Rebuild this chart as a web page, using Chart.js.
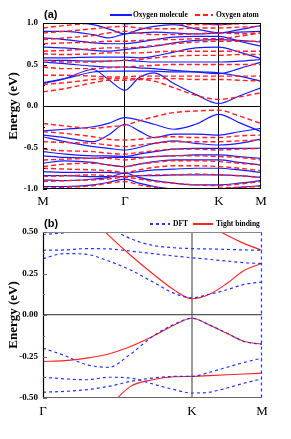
<!DOCTYPE html>
<html><head><meta charset="utf-8">
<script src="https://cdn.jsdelivr.net/npm/chart.js@4.4.1/dist/chart.umd.min.js"></script>
<style>
html,body{margin:0;padding:0;background:#fff;width:291px;height:439px;overflow:hidden;position:relative;}
canvas{position:absolute;left:0;}
#ca{top:0;}
#cb{top:215px;}
.pl{position:absolute;font-family:"Liberation Sans",Arial,sans-serif;font-weight:bold;font-size:11px;line-height:1;color:#000;}
.lt{position:absolute;font-family:"Liberation Serif","Times New Roman",serif;font-weight:bold;font-size:7.5px;line-height:1;white-space:nowrap;color:#000;}
.ls{position:absolute;height:1.5px;}
</style></head>
<body>
<canvas id="ca" width="291" height="215"></canvas>
<canvas id="cb" width="291" height="224"></canvas>
<div class="pl" style="left:44px;top:9px;">(a)</div>
<div class="ls" style="left:110px;top:14px;width:22px;background:#1a1aff;"></div>
<div class="lt" style="left:133px;top:11px;">Oxygen molecule</div>
<div class="ls" style="left:195px;top:14px;width:18px;background:repeating-linear-gradient(90deg,#ff2020 0 5px,transparent 5px 8px);"></div>
<div class="lt" style="left:216px;top:11px;">Oxygen atom</div>
<div class="pl" style="left:44px;top:218px;">(b)</div>
<div class="ls" style="left:150px;top:223px;width:20px;background:repeating-linear-gradient(90deg,#2233ff 0 3px,transparent 3px 6px);"></div>
<div class="lt" style="left:173px;top:220px;">DFT</div>
<div class="ls" style="left:193px;top:223px;width:20px;background:#ff2020;"></div>
<div class="lt" style="left:216px;top:220px;">Tight binding</div>
<script>
// ---------- Panel (a): path M - Γ - K - M ----------
const G_A = 0.376, K_A = 0.807;
const xTicksA = [0, G_A, K_A, 1];
const xLabelsA = ['M', 'Γ', 'K', 'M'];
const yTicksA = [-1, -0.5, 0, 0.5, 1];
const xA = [0, 0.1, 0.23, 0.3, 0.376, 0.44, 0.51, 0.6, 0.7, 0.807, 0.9, 1.0];

// Oxygen molecule (blue solid)
const mol1 = [0.27, 0.33, 0.44, 0.32, 0.19, 0.34, 0.40, 0.27, 0.14, 0.03, 0.12, 0.22];
const mol2 = [0.28, 0.33, 0.41, 0.42, 0.42, 0.42, 0.42, 0.41, 0.41, 0.40, 0.36, 0.30];
const mol3 = [0.53, 0.51, 0.48, 0.47, 0.47, 0.46, 0.45, 0.43, 0.41, 0.39, 0.45, 0.53];
const mol4 = [0.55, 0.55, 0.54, 0.54, 0.55, 0.54, 0.53, 0.53, 0.53, 0.53, 0.54, 0.56];
const mol5 = [0.58, 0.58, 0.59, 0.59, 0.59, 0.58, 0.60, 0.65, 0.70, 0.71, 0.65, 0.57];
const mol6 = [0.71, 0.70, 0.67, 0.66, 0.68, 0.70, 0.72, 0.76, 0.79, 0.80, 0.79, 0.77];
const mol7 = [0.82, 0.80, 0.76, 0.75, 0.75, 0.77, 0.80, 0.83, 0.84, 0.84, 0.78, 0.72];
const mol8 = [0.90, 0.90, 0.86, 0.82, 0.87, 0.88, 0.89, 0.88, 0.87, 0.88, 0.89, 0.90];
const mol9 = [1.05, 1.02, 0.98, 0.93, 0.87, 0.92, 0.96, 0.98, 0.93, 0.88, 0.92, 0.97];
const mol10 = [1.12, 1.10, 1.06, 1.02, 0.99, 1.00, 1.02, 1.03, 1.00, 0.98, 1.00, 1.03];
const molV1 = [-0.30, -0.28, -0.25, -0.21, -0.14, -0.17, -0.22, -0.28, -0.22, -0.10, -0.20, -0.31];
const molV2 = [-0.35, -0.38, -0.43, -0.35, -0.22, -0.30, -0.38, -0.34, -0.34, -0.35, -0.31, -0.27];
const molV3 = [-0.37, -0.43, -0.49, -0.51, -0.53, -0.50, -0.45, -0.42, -0.45, -0.47, -0.45, -0.40];
const molV4 = [-0.55, -0.58, -0.60, -0.60, -0.61, -0.58, -0.55, -0.52, -0.51, -0.51, -0.51, -0.51];
const molV5 = [-0.60, -0.62, -0.63, -0.62, -0.62, -0.62, -0.61, -0.60, -0.59, -0.59, -0.61, -0.63];
const molV6 = [-0.69, -0.66, -0.68, -0.71, -0.73, -0.70, -0.67, -0.65, -0.65, -0.65, -0.68, -0.71];
const molV7 = [-0.79, -0.80, -0.80, -0.80, -0.81, -0.79, -0.77, -0.76, -0.75, -0.75, -0.77, -0.80];
const molV8 = [-0.84, -0.84, -0.85, -0.85, -0.85, -0.84, -0.84, -0.83, -0.83, -0.83, -0.84, -0.86];
const molV9 = [-0.89, -0.90, -0.88, -0.86, -0.81, -0.86, -0.90, -0.93, -0.95, -0.95, -0.93, -0.90];
const molV10 = [-0.97, -0.97, -0.95, -0.92, -0.88, -0.93, -0.97, -1.00, -1.00, -1.00, -0.98, -0.96];

// Oxygen atom (red dashed)
const atm1 = [0.17, 0.21, 0.28, 0.31, 0.31, 0.32, 0.30, 0.22, 0.13, 0.08, 0.11, 0.16];
const atm2 = [0.26, 0.28, 0.32, 0.33, 0.33, 0.33, 0.33, 0.33, 0.32, 0.32, 0.31, 0.30];
const atm3 = [0.37, 0.37, 0.36, 0.35, 0.35, 0.36, 0.36, 0.36, 0.36, 0.36, 0.36, 0.36];
const atm4 = [0.47, 0.45, 0.45, 0.46, 0.47, 0.48, 0.49, 0.50, 0.50, 0.50, 0.50, 0.50];
const atm5 = [0.55, 0.53, 0.53, 0.54, 0.55, 0.56, 0.58, 0.60, 0.61, 0.61, 0.62, 0.62];
const atm6 = [0.63, 0.62, 0.63, 0.64, 0.64, 0.64, 0.65, 0.66, 0.66, 0.66, 0.66, 0.66];
const atm7 = [0.66, 0.67, 0.69, 0.70, 0.70, 0.71, 0.73, 0.75, 0.77, 0.78, 0.78, 0.78];
const atm8 = [0.75, 0.76, 0.77, 0.78, 0.78, 0.79, 0.80, 0.80, 0.81, 0.81, 0.84, 0.88];
const atm9 = [0.80, 0.82, 0.85, 0.88, 0.90, 0.88, 0.86, 0.86, 0.87, 0.88, 0.87, 0.88];
const atm10 = [0.88, 0.90, 0.93, 0.95, 0.96, 0.94, 0.93, 0.93, 0.94, 0.94, 0.95, 0.96];
const atm11 = [0.94, 0.97, 1.00, 1.02, 1.03, 1.01, 1.00, 0.99, 0.98, 0.98, 0.99, 1.00];
const atmV1 = [-0.21, -0.24, -0.27, -0.25, -0.23, -0.18, -0.13, -0.08, -0.06, -0.05, -0.12, -0.21];
const atmV2 = [-0.31, -0.33, -0.37, -0.40, -0.41, -0.40, -0.38, -0.37, -0.38, -0.38, -0.36, -0.35];
const atmV3 = [-0.43, -0.44, -0.45, -0.47, -0.49, -0.47, -0.45, -0.43, -0.43, -0.43, -0.42, -0.41];
const atmV4 = [-0.52, -0.54, -0.55, -0.57, -0.58, -0.56, -0.54, -0.52, -0.52, -0.53, -0.52, -0.51];
const atmV5 = [-0.65, -0.64, -0.63, -0.63, -0.65, -0.63, -0.61, -0.60, -0.60, -0.61, -0.62, -0.65];
const atmV6 = [-0.73, -0.70, -0.69, -0.71, -0.73, -0.70, -0.68, -0.66, -0.66, -0.67, -0.69, -0.71];
const atmV7 = [-0.75, -0.76, -0.77, -0.78, -0.80, -0.77, -0.74, -0.72, -0.72, -0.73, -0.75, -0.78];
const atmV8 = [-0.85, -0.84, -0.83, -0.84, -0.85, -0.84, -0.83, -0.83, -0.82, -0.83, -0.84, -0.86];
const atmV9 = [-0.91, -0.90, -0.89, -0.88, -0.86, -0.88, -0.91, -0.93, -0.95, -0.96, -0.94, -0.91];
const atmV10 = [-0.99, -0.98, -0.96, -0.93, -0.91, -0.95, -0.98, -1.00, -1.02, -0.99, -0.98, -0.97];

// ---------- Panel (b): path Γ - K - M ----------
const K_B = 0.68;
const xTicksB = [0, K_B, 1];
const xLabelsB = ['Γ', 'K', 'M'];
const yTicksB = [-0.5, -0.25, 0, 0.25, 0.5];
const xB = [0, 0.1, 0.2, 0.3, 0.4, 0.5, 0.6, 0.68, 0.76, 0.84, 0.92, 1.0];

// DFT (blue dashed)
const dft1 = [0.485, 0.495, 0.51, 0.54, 0.58, 0.62, 0.66, 0.69, 0.72, 0.75, 0.78, 0.80];
const dft2 = [0.39, 0.392, 0.40, 0.398, 0.385, 0.37, 0.355, 0.345, 0.335, 0.325, 0.315, 0.31];
const dft3 = [0.75, 0.70, 0.62, 0.53, 0.46, 0.42, 0.405, 0.40, 0.398, 0.395, 0.392, 0.39];
const dft4 = [0.34, 0.37, 0.365, 0.325, 0.271, 0.20, 0.13, 0.104, 0.125, 0.152, 0.185, 0.199];
const dft5 = [-0.20, -0.245, -0.30, -0.315, -0.235, -0.13, -0.055, -0.02, -0.06, -0.11, -0.16, -0.176];
const dft6 = [-0.465, -0.46, -0.45, -0.43, -0.40, -0.38, -0.37, -0.37, -0.345, -0.315, -0.285, -0.26];
const dft7 = [-0.375, -0.385, -0.39, -0.375, -0.38, -0.415, -0.45, -0.47, -0.465, -0.44, -0.41, -0.385];
const dft8 = [-0.70, -0.66, -0.62, -0.58, -0.53, -0.502, -0.497, -0.497, -0.503, -0.53, -0.57, -0.60];

// Tight binding (red solid)
const tb1 = [0.85, 0.74, 0.61, 0.48, 0.36, 0.25, 0.15, 0.098, 0.125, 0.19, 0.27, 0.311];
const tb2 = [0.95, 0.90, 0.85, 0.80, 0.76, 0.70, 0.64, 0.59, 0.54, 0.48, 0.43, 0.39];
const tb3 = [-0.28, -0.275, -0.26, -0.235, -0.19, -0.13, -0.06, -0.02, -0.06, -0.11, -0.16, -0.176];
const tb4 = [-0.80, -0.72, -0.64, -0.55, -0.43, -0.39, -0.372, -0.37, -0.365, -0.36, -0.355, -0.35];

const BLUE = '#1a1aff', RED = '#ff2020', BLUE_B = '#2233ff';
function band(xs, ys, color, dash, width) {
  return {
    data: xs.map((x, i) => ({ x: x, y: ys[i] })),
    borderColor: color, borderDash: dash, borderWidth: width,
    pointRadius: 0, fill: false, cubicInterpolationMode: 'monotone', clip: 0
  };
}

const molBands = [mol1, mol2, mol3, mol4, mol5, mol6, mol7, mol8, mol9, mol10,
  molV1, molV2, molV3, molV4, molV5, molV6, molV7, molV8, molV9, molV10];
const atmBands = [atm1, atm2, atm3, atm4, atm5, atm6, atm7, atm8, atm9, atm10, atm11,
  atmV1, atmV2, atmV3, atmV4, atmV5, atmV6, atmV7, atmV8, atmV9, atmV10];

const dsA = [];
atmBands.forEach(b => dsA.push(band(xA, b, RED, [5, 3], 1.4)));
molBands.forEach(b => dsA.push(band(xA, b, BLUE, [], 1.2)));

const dsB = [];
[dft1, dft2, dft3, dft4, dft5, dft6, dft7, dft8].forEach(b => dsB.push(band(xB, b, BLUE_B, [3, 3], 1.2)));
[tb1, tb2, tb3, tb4].forEach(b => dsB.push(band(xB, b, RED, [], 1.1)));

const SERIF = '"Liberation Serif","Times New Roman",serif';

function frameA() {
  return {
    id: 'frameA',
    afterDatasetsDraw(chart) {
      const c = chart.ctx, a = chart.chartArea, ys = chart.scales.y;
      c.save();
      c.strokeStyle = '#000'; c.lineWidth = 1;
      c.strokeRect(Math.round(a.left) + 0.5, Math.round(a.top) + 0.5, Math.round(a.right - a.left) - 1, Math.round(a.bottom - a.top) - 1);
      for (let v = -1; v <= 1.0001; v += 0.25) {
        const y = Math.round(ys.getPixelForValue(v)) + 0.5;
        const len = Math.abs(v * 2 - Math.round(v * 2)) < 1e-6 ? 4 : 2;
        c.beginPath(); c.moveTo(a.left, y); c.lineTo(a.left + len, y); c.stroke();
      }
      c.restore();
    }
  };
}
function frameB() {
  return {
    id: 'frameB',
    afterDatasetsDraw(chart) {
      const c = chart.ctx, a = chart.chartArea, ys = chart.scales.y;
      const L = Math.round(a.left) + 0.5, R = Math.round(a.right) - 0.5, T = Math.round(a.top) + 0.5, B = Math.round(a.bottom) - 0.5;
      c.save();
      c.lineWidth = 1.2;
      c.strokeStyle = '#888';
      c.beginPath(); c.moveTo(L, T); c.lineTo(R, T); c.stroke();
      c.strokeStyle = '#666';
      c.beginPath(); c.moveTo(L, B); c.lineTo(R, B); c.stroke();
      c.strokeStyle = '#000';
      c.beginPath(); c.moveTo(L, T); c.lineTo(L, B); c.stroke();
      c.strokeStyle = BLUE_B; c.setLineDash([3, 3]);
      c.beginPath(); c.moveTo(R, T); c.lineTo(R, B); c.stroke();
      c.setLineDash([]);
      c.strokeStyle = '#666'; c.lineWidth = 1;
      for (let v = -0.5; v <= 0.5001; v += 0.125) {
        const y = Math.round(ys.getPixelForValue(v)) + 0.5;
        const len = Math.abs(v * 4 - Math.round(v * 4)) < 1e-6 ? 4 : 2;
        c.beginPath(); c.moveTo(a.left, y); c.lineTo(a.left + len, y); c.stroke();
      }
      c.restore();
    }
  };
}

new Chart(document.getElementById('ca'), {
  type: 'line',
  data: { datasets: dsA },
  options: {
    responsive: false, animation: false, devicePixelRatio: 1,
    layout: { padding: { top: 23, right: 30, left: 0, bottom: 0 } },
    plugins: { legend: { display: false }, tooltip: { enabled: false } },
    scales: {
      x: {
        type: 'linear', min: 0, max: 1,
        afterBuildTicks: s => { s.ticks = xTicksA.map(v => ({ value: v })); },
        afterFit: s => { s.height = 26; },
        ticks: { callback: (v, i) => xLabelsA[i], padding: 5, autoSkip: false, maxRotation: 0,
          font: { family: SERIF, size: 13 }, color: '#000' },
        grid: { drawTicks: false, lineWidth: 1,
          color: c => (c.index === 1 || c.index === 2) ? '#000' : 'rgba(0,0,0,0)' },
        border: { display: false }
      },
      y: {
        type: 'linear', min: -1, max: 1,
        afterBuildTicks: s => { s.ticks = yTicksA.map(v => ({ value: v })); },
        afterFit: s => { s.width = 43; },
        ticks: { callback: v => v.toFixed(1), padding: 5,
          font: { family: SERIF, size: 9, weight: 'bold' }, color: '#000' },
        grid: { drawTicks: false, lineWidth: 1,
          color: c => (c.tick && Math.abs(c.tick.value) < 1e-9) ? '#000' : 'rgba(0,0,0,0)' },
        border: { display: false },
        title: { display: true, text: 'Energy (eV)', color: '#000',
          font: { family: SERIF, size: 13, weight: 'bold' }, padding: { top: 6, bottom: 0 } }
      }
    }
  },
  plugins: [frameA()]
});

new Chart(document.getElementById('cb'), {
  type: 'line',
  data: { datasets: dsB },
  options: {
    responsive: false, animation: false, devicePixelRatio: 1,
    layout: { padding: { top: 17, right: 29, left: 0, bottom: 0 } },
    plugins: { legend: { display: false }, tooltip: { enabled: false } },
    scales: {
      x: {
        type: 'linear', min: 0, max: 1,
        afterBuildTicks: s => { s.ticks = xTicksB.map(v => ({ value: v })); },
        afterFit: s => { s.height = 41; },
        ticks: { callback: (v, i) => xLabelsB[i], padding: 6, autoSkip: false, maxRotation: 0,
          font: { family: SERIF, size: 13 }, color: '#000' },
        grid: { drawTicks: false, lineWidth: 2,
          color: c => (c.index === 1) ? '#9a9a9a' : 'rgba(0,0,0,0)' },
        border: { display: false }
      },
      y: {
        type: 'linear', min: -0.5, max: 0.5,
        afterBuildTicks: s => { s.ticks = yTicksB.map(v => ({ value: v })); },
        afterFit: s => { s.width = 43; },
        ticks: { callback: v => v.toFixed(2), padding: 5,
          font: { family: SERIF, size: 9, weight: 'bold' }, color: '#000' },
        grid: { drawTicks: false, lineWidth: 1.2,
          color: c => (c.tick && Math.abs(c.tick.value) < 1e-9) ? '#555' : 'rgba(0,0,0,0)' },
        border: { display: false },
        title: { display: true, text: 'Energy (eV)', color: '#000',
          font: { family: SERIF, size: 13, weight: 'bold' }, padding: { top: 6, bottom: 0 } }
      }
    }
  },
  plugins: [frameB()]
});
</script>
</body></html>
